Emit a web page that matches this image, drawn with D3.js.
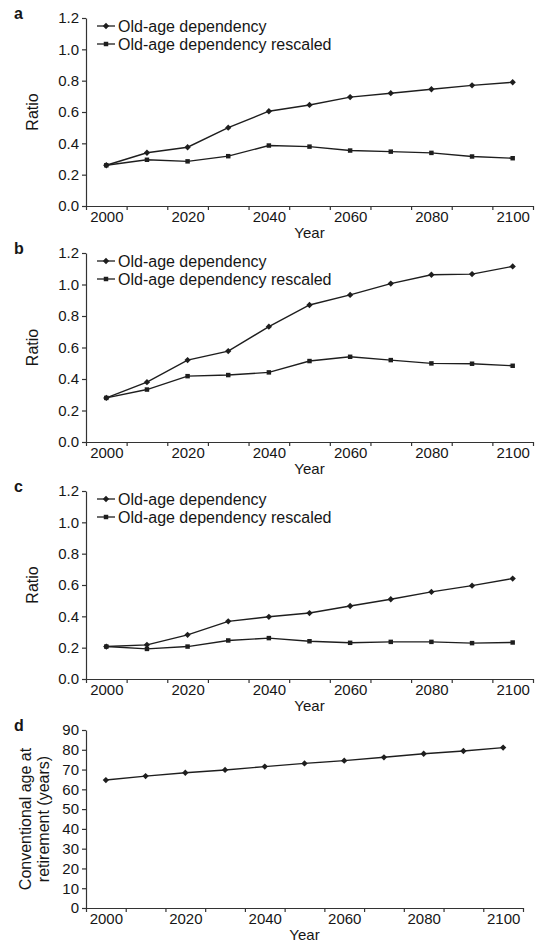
<!DOCTYPE html>
<html lang="en">
<head>
    <meta charset="UTF-8">
    <title>Old-age dependency ratios</title>
    <script src="https://d3js.org/d3.v7.min.js"></script>
    <style>
        body, html {
            margin: 0;
            padding: 0;
            background: #fff;
            overflow: hidden;
        }
        svg text {
            font-family: "Liberation Sans", Arial, sans-serif;
            fill: #161616;
        }
        .axis path, .axis line {
            stroke: #333;
            stroke-width: 1.2;
        }
    </style>
</head>
<body>
    <div id="chart"></div>

    <script>
        // data
        var years = [2000, 2010, 2020, 2030, 2040, 2050, 2060, 2070, 2080, 2090, 2100];
        var yearLabels = [2000, 2020, 2040, 2060, 2080, 2100];
        var seriesNames = ["Old-age dependency", "Old-age dependency rescaled"];
        var ratioTicks = [0, 0.2, 0.4, 0.6, 0.8, 1.0, 1.2];
        var ageTicks = [0, 10, 20, 30, 40, 50, 60, 70, 80, 90];

        var aDependency = [0.26, 0.34, 0.375, 0.50, 0.605, 0.645, 0.695, 0.72, 0.745, 0.77, 0.79];
        var aRescaled   = [0.26, 0.295, 0.285, 0.318, 0.386, 0.379, 0.354, 0.347, 0.339, 0.316, 0.305];
        var bDependency = [0.28, 0.38, 0.52, 0.577, 0.732, 0.87, 0.934, 1.006, 1.062, 1.066, 1.115];
        var bRescaled   = [0.28, 0.333, 0.418, 0.425, 0.442, 0.514, 0.541, 0.52, 0.499, 0.497, 0.484];
        var cDependency = [0.207, 0.218, 0.282, 0.368, 0.397, 0.421, 0.466, 0.509, 0.556, 0.596, 0.641];
        var cRescaled   = [0.207, 0.192, 0.207, 0.246, 0.261, 0.241, 0.231, 0.237, 0.237, 0.229, 0.233];
        var retirementAge = [64.7, 66.7, 68.4, 69.8, 71.5, 73.1, 74.5, 76.2, 78.0, 79.4, 81.1];

        var svg = d3.select("#chart").append("svg")
            .attr("width", 535)
            .attr("height", 944);

        var ratioPanels = [
            {letter: "a", top: 18, bottom: 206, dep: aDependency, res: aRescaled},
            {letter: "b", top: 253, bottom: 442, dep: bDependency, res: bRescaled},
            {letter: "c", top: 491, bottom: 679, dep: cDependency, res: cRescaled}
        ];

        var left = 86;
        var lineColor = "#1e1e1e";
        // small diamond = square turned 45 degrees
        var diamond = d3.symbol().type(d3.symbolSquare).size(20);
        var square = d3.symbol().type(d3.symbolSquare).size(20);
        var markerRot = [45, 0];

        function drawAxes(g, x, y, bottom, yTicks, yFmt) {
            // x: ticks between categories, labels on every other category
            g.append("g").attr("class", "axis")
                .attr("transform", "translate(0," + bottom + ")")
                .call(d3.axisBottom(x)
                    .tickValues(d3.range(1995, 2106, 10))
                    .tickFormat("")
                    .tickSize(4)
                    .tickSizeOuter(0));
            g.append("g").attr("class", "axis")
                .attr("transform", "translate(0," + bottom + ")")
                .call(d3.axisBottom(x)
                    .tickValues(yearLabels)
                    .tickSize(0)
                    .tickPadding(5)
                    .tickFormat(d3.format("d")))
                .call(a => a.select(".domain").remove())
                .selectAll("text")
                .style("font-size", "15px");

            g.append("g").attr("class", "axis")
                .attr("transform", "translate(" + left + ",0)")
                .call(d3.axisLeft(y)
                    .tickValues(yTicks)
                    .tickSize(4)
                    .tickSizeOuter(0)
                    .tickPadding(3)
                    .tickFormat(yFmt))
                .selectAll("text")
                .style("font-size", "15px");

            g.append("text")
                .attr("x", (x.range()[0] + x.range()[1]) / 2)
                .attr("y", bottom + 32)
                .attr("text-anchor", "middle")
                .style("font-size", "15px")
                .text("Year");
        }

        function drawSeries(g, x, y, values, sym, rot) {
            var pts = values.map((v, i) => [years[i], v]);
            g.append("path")
                .datum(pts)
                .attr("fill", "none")
                .attr("stroke", lineColor)
                .attr("stroke-width", 1.4)
                .attr("d", d3.line().x(d => x(d[0])).y(d => y(d[1])));
            g.selectAll(null)
                .data(pts)
                .enter().append("path")
                .attr("d", sym)
                .attr("fill", lineColor)
                .attr("transform", d => "translate(" + x(d[0]) + "," + y(d[1]) + ") rotate(" + rot + ")");
        }

        ratioPanels.forEach(function(p) {
            var g = svg.append("g");
            var x = d3.scaleLinear().domain([1995, 2105]).range([left, 533]);
            var y = d3.scaleLinear().domain([0, 1.2]).range([p.bottom, p.top]);

            drawAxes(g, x, y, p.bottom, ratioTicks, d3.format(".1f"));
            drawSeries(g, x, y, p.dep, diamond, markerRot[0]);
            drawSeries(g, x, y, p.res, square, markerRot[1]);

            g.append("text")
                .attr("x", 14)
                .attr("y", p.top + 1)
                .style("font-size", "16px")
                .style("font-weight", "bold")
                .text(p.letter);

            g.append("text")
                .attr("transform", "translate(38," + ((p.top + p.bottom) / 2) + ") rotate(-90)")
                .attr("text-anchor", "middle")
                .style("font-size", "16px")
                .text("Ratio");

            // legend
            seriesNames.forEach(function(name, i) {
                var ly = p.top + 8 + i * 18;
                g.append("line")
                    .attr("x1", 97).attr("x2", 115)
                    .attr("y1", ly).attr("y2", ly)
                    .attr("stroke", lineColor)
                    .attr("stroke-width", 1.3);
                g.append("path")
                    .attr("d", i === 0 ? diamond : square)
                    .attr("fill", lineColor)
                    .attr("transform", "translate(106," + ly + ") rotate(" + markerRot[i] + ")");
                g.append("text")
                    .attr("x", 118)
                    .attr("y", ly)
                    .attr("dy", "0.35em")
                    .style("font-size", "16px")
                    .text(name);
            });
        });

        // panel d: conventional retirement age
        var dTop = 730, dBottom = 908;
        var gd = svg.append("g");
        var xd = d3.scaleLinear().domain([1995, 2105]).range([left, 523]);
        var yd = d3.scaleLinear().domain([0, 90]).range([dBottom, dTop]);

        drawAxes(gd, xd, yd, dBottom, ageTicks, d3.format("d"));
        drawSeries(gd, xd, yd, retirementAge, diamond, markerRot[0]);

        gd.append("text")
            .attr("x", 14)
            .attr("y", dTop + 1)
            .style("font-size", "16px")
            .style("font-weight", "bold")
            .text("d");

        var ylab = gd.append("text")
            .attr("transform", "translate(0," + ((dTop + dBottom) / 2) + ") rotate(-90)")
            .attr("text-anchor", "middle")
            .style("font-size", "16px");
        ylab.append("tspan").attr("x", 0).attr("y", 31).text("Conventional age at");
        ylab.append("tspan").attr("x", 0).attr("y", 49).text("retirement (years)");
    </script>
</body>
</html>
